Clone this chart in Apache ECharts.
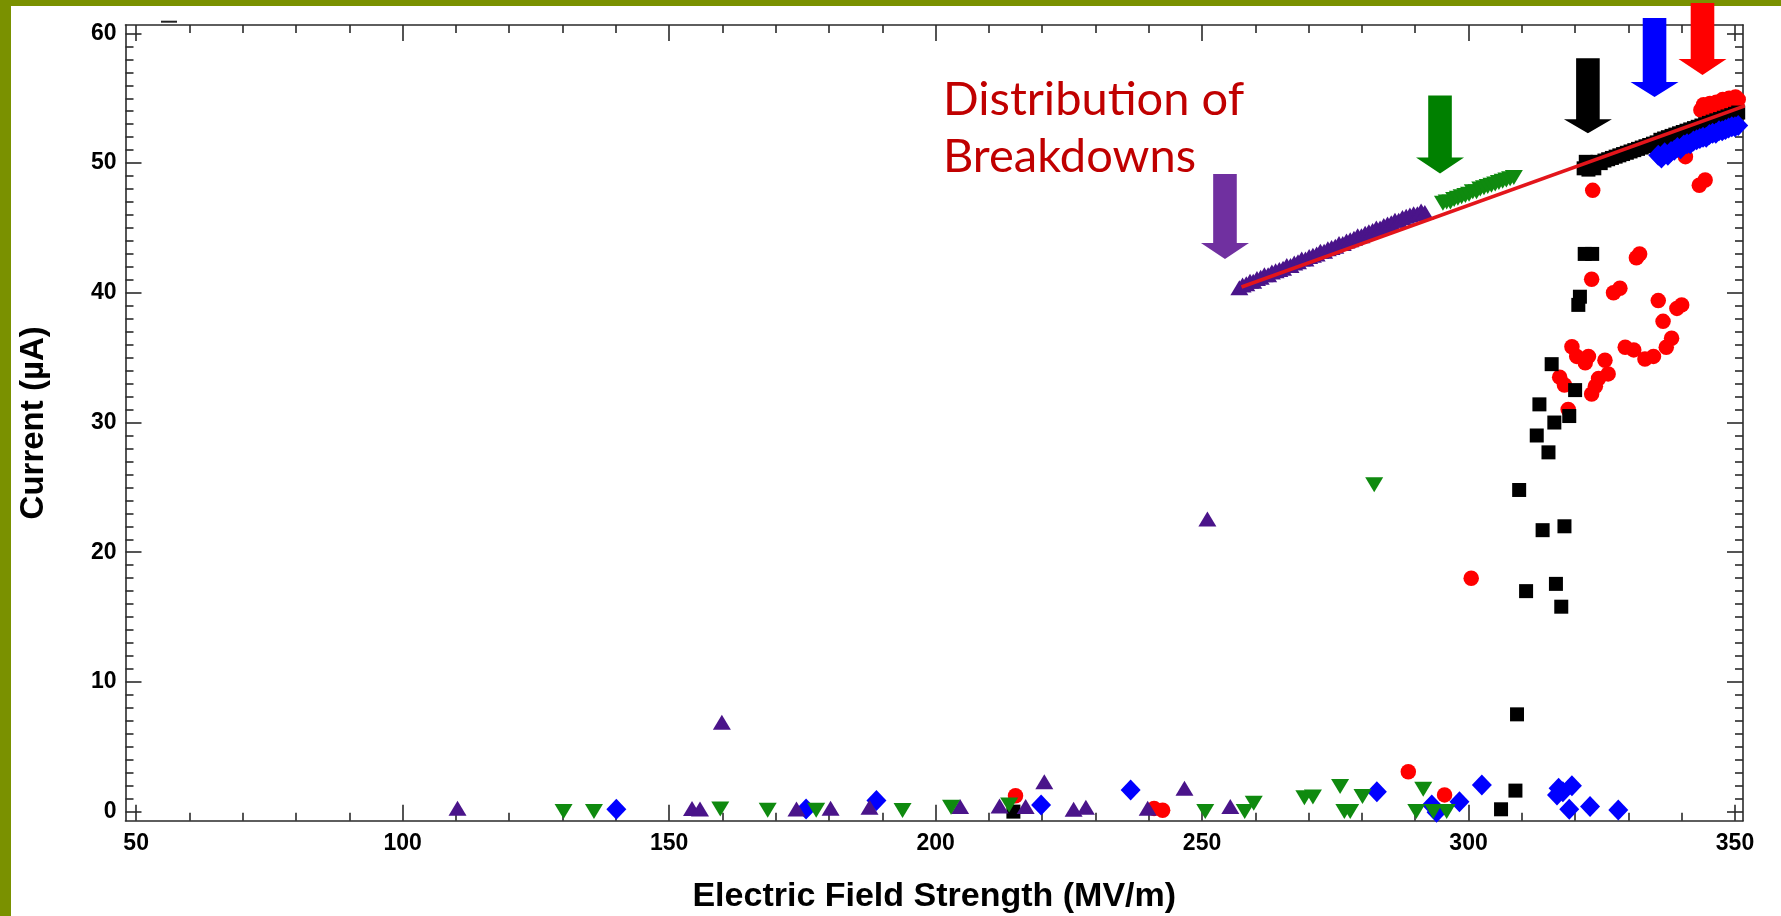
<!DOCTYPE html>
<html>
<head>
<meta charset="utf-8">
<script src="https://cdn.jsdelivr.net/npm/echarts@6/dist/echarts.min.js"></script>
<style>
  html, body { margin: 0; padding: 0; background: #ffffff; }
  #chart { width: 1781px; height: 916px; }
</style>
</head>
<body>
<div id="chart"></div>
<script>
// ---- axis ticks ----
const xTickLabels = [50, 100, 150, 200, 250, 300, 350];
const yTickLabels = [0, 10, 20, 30, 40, 50, 60];

// ---- measured current vs. field, one array per run ----
// purple run (up triangles)
const purpleRun = [
  [110.3, 0.26], [154.3, 0.25], [155.8, 0.2], [159.9, 6.9], [173.9, 0.2], [180.3, 0.26],
  [187.6, 0.34], [204.6, 0.39], [212.0, 0.44], [216.9, 0.39], [220.4, 2.31], [225.9, 0.18],
  [228.2, 0.34], [239.8, 0.26], [246.7, 1.8], [251.0, 22.56], [255.3, 0.39],
  [257.0, 40.4], [257.6, 40.6], [258.3, 40.7], [259.0, 40.9], [259.6, 40.9], [260.3, 41.1],
  [261.0, 41.2], [261.7, 41.4], [262.4, 41.4], [263.1, 41.6], [263.8, 41.7], [264.5, 41.8],
  [265.2, 41.9], [265.9, 42.1], [266.6, 42.1], [267.3, 42.3], [268.0, 42.4], [268.7, 42.6],
  [269.4, 42.6], [270.1, 42.8], [270.8, 42.9], [271.5, 43.0], [272.2, 43.2], [272.9, 43.2],
  [273.6, 43.4], [274.3, 43.5], [275.0, 43.6], [275.7, 43.8], [276.4, 43.8], [277.1, 44.0],
  [277.8, 44.1], [278.5, 44.2], [279.2, 44.4], [279.9, 44.4], [280.6, 44.6], [281.3, 44.7],
  [282.0, 44.8], [282.7, 45.0], [283.4, 45.0], [284.1, 45.2], [284.8, 45.3], [285.5, 45.4],
  [286.2, 45.6], [286.9, 45.6], [287.6, 45.8], [288.3, 45.9], [289.0, 46.0], [289.7, 46.1],
  [290.4, 46.1], [291.1, 46.3], [291.8, 46.2]
];
// green run (down triangles)
const greenRun = [
  [130.2, 0.0], [135.9, 0.0], [159.6, 0.2], [168.5, 0.1], [177.6, 0.1], [193.8, 0.08],
  [202.9, 0.34], [213.8, 0.52], [250.6, 0.0], [258.0, 0.0], [259.7, 0.65], [269.2, 1.07],
  [270.8, 1.13], [275.9, 1.93], [276.7, 0.0], [277.8, 0.0], [280.1, 1.16], [282.3, 25.2],
  [290.2, 0.0], [291.5, 1.73], [293.4, 0.0], [295.9, 0.0],
  [295.2, 46.9], [295.9, 47.0], [296.6, 47.0], [297.3, 47.2], [298.0, 47.3], [298.7, 47.4],
  [299.4, 47.5], [300.1, 47.6], [300.8, 47.8], [301.5, 47.8], [302.2, 48.0], [302.9, 48.1],
  [303.6, 48.2], [304.3, 48.3], [305.0, 48.4], [305.7, 48.5], [306.4, 48.6], [307.1, 48.7],
  [307.8, 48.8], [308.5, 48.9]
];
// black run (squares)
const blackRun = [
  [214.6, 0.0], [306.1, 0.18], [308.8, 1.62], [309.1, 7.5], [309.5, 24.8], [310.8, 17.0],
  [312.8, 29.0], [313.3, 31.4], [313.9, 21.7], [315.0, 27.7], [315.6, 34.5], [316.1, 30.0],
  [316.4, 17.56], [317.4, 15.8], [318.0, 22.0], [318.9, 30.5], [320.0, 32.5], [320.6, 39.07],
  [320.9, 39.7], [321.8, 43.0], [323.2, 43.0],
  [321.6, 49.6], [322.0, 50.1], [322.5, 49.5], [323.0, 50.0], [323.6, 49.6], [324.2, 50.1],
  [324.8, 50.0], [325.5, 50.2], [326.2, 50.3], [326.9, 50.4], [327.6, 50.5], [328.3, 50.6],
  [329.0, 50.7], [329.7, 50.8], [330.4, 50.9], [331.1, 51.0], [331.8, 51.1], [332.5, 51.2],
  [333.2, 51.3], [333.9, 51.4], [334.6, 51.5], [335.3, 51.6], [336.0, 51.8], [336.7, 51.9],
  [337.4, 52.0], [338.1, 52.1], [338.8, 52.2], [339.5, 52.3], [340.2, 52.4], [340.9, 52.5],
  [341.6, 52.6], [342.3, 52.7], [343.0, 52.8], [343.7, 52.9], [344.4, 53.0], [345.1, 53.1],
  [345.8, 53.2], [346.5, 53.3], [347.2, 53.4], [347.9, 53.5], [348.6, 53.6], [349.3, 53.7],
  [350.0, 53.8], [350.6, 53.9]
];
// blue run (diamonds)
const blueRun = [
  [140.1, 0.18], [175.7, 0.2], [188.9, 0.85], [219.8, 0.52], [236.6, 1.67], [282.8, 1.54],
  [293.1, 0.52], [294.0, -0.05], [298.3, 0.77], [302.5, 2.06], [316.6, 1.29], [316.9, 1.8],
  [317.7, 1.54], [318.9, 0.18], [319.4, 2.0], [322.8, 0.39], [328.1, 0.13],
  [335.6, 50.6], [336.2, 50.4], [336.8, 50.8], [337.4, 50.6], [338.0, 50.9], [338.6, 51.0],
  [339.2, 51.2], [339.8, 51.1], [340.4, 51.4], [341.0, 51.5], [341.6, 51.5], [342.2, 51.7],
  [342.8, 51.8], [343.4, 51.9], [344.0, 52.0], [344.6, 52.0], [345.2, 52.2], [345.8, 52.3],
  [346.4, 52.3], [347.0, 52.5], [347.6, 52.5], [348.2, 52.6], [348.8, 52.7], [349.4, 52.8],
  [350.0, 52.8], [350.6, 52.9]
];
// red run (circles)
const redRun = [
  [215.0, 1.23], [241.0, 0.25], [242.6, 0.1], [288.7, 3.08], [295.5, 1.29], [300.5, 18.0],
  [317.1, 33.5], [318.0, 32.9], [318.7, 31.0], [319.4, 35.85], [320.3, 35.1], [321.9, 34.6],
  [322.5, 35.1], [323.1, 32.2], [323.8, 32.8], [324.4, 33.4], [325.6, 34.8], [326.2, 33.75],
  [323.1, 41.05], [327.2, 40.0], [328.4, 40.35], [329.4, 35.8], [331.0, 35.6], [331.5, 42.7],
  [332.1, 43.0], [333.1, 34.9], [334.7, 35.1], [335.6, 39.4], [336.5, 37.8], [337.1, 35.8],
  [338.1, 36.5], [339.1, 38.8], [340.0, 39.07], [323.3, 47.9], [340.7, 50.5], [343.3, 48.3],
  [344.4, 48.7],
  [343.6, 54.1], [344.1, 54.5], [344.7, 54.2], [345.3, 54.6], [345.9, 54.4], [346.5, 54.7],
  [347.1, 54.6], [347.7, 54.9], [348.3, 54.7], [348.9, 55.0], [349.5, 54.9], [350.1, 55.1],
  [350.6, 54.9]
];
// linear fit through the breakdown points
const breakdownFit = [[257.4, 40.45], [352.4, 54.5]];

// breakdown markers: field position and arrow tip (data units)
const arrowField = [254.3, 294.65, 322.4, 334.9, 343.9];
const arrowTipCurrent = [42.6, 49.2, 52.3, 55.1, 56.8];

// ---- styling ----
const FONT = "'Liberation Sans', Arial, sans-serif";
const X_MIN = 48, X_MAX = 351.5, Y_MIN = -0.7, Y_MAX = 60.65;
const arrowColors = ['#7030a0', '#008000', '#000000', '#0000ff', '#ff0000'];
const arrowLen = [85, 78, 75, 79, 72];
const arrowHeadLen = [16, 16, 14, 15, 16];

function minorBetween(major, step) {
  const out = [];
  for (let i = 0; i < major.length - 1; i++) {
    for (let v = major[i] + step; v < major[i + 1] - 1e-9; v += step) out.push(+v.toFixed(3));
  }
  return out;
}
const xMinor = minorBetween(xTickLabels, 10);
const yMinor = minorBetween(yTickLabels, 1);

const lineCol = '#2a2a2a';
function valueAxis(pos, min, max, ticks, len, showLine, labels, extra) {
  return Object.assign({
    type: 'value', position: pos, min: min, max: max,
    axisLine: { show: showLine, onZero: false, lineStyle: { color: lineCol, width: 1.6 } },
    axisTick: { show: true, inside: true, length: len, customValues: ticks,
                lineStyle: { color: lineCol, width: 1.6 } },
    axisLabel: labels ? { show: true, customValues: ticks, color: '#000', fontFamily: FONT,
                          fontWeight: 'bold', fontSize: 23, margin: labels.margin }
                      : { show: false },
    splitLine: { show: false }
  }, extra || {});
}

const chart = echarts.init(document.getElementById('chart'), null, { renderer: 'canvas' });

const option = {
  backgroundColor: '#ffffff',
  animation: false,
  grid: { left: 125.5, right: 38, top: 25, bottom: 95.3, containLabel: false, outerBoundsMode: 'none' },
  xAxis: [
    valueAxis('bottom', X_MIN, X_MAX, xTickLabels, 16, true, { margin: 11 }, {
      name: 'Electric Field Strength (MV/m)', nameLocation: 'middle', nameGap: 59,
      nameTextStyle: { color: '#000', fontFamily: FONT, fontWeight: 'bold', fontSize: 34 }
    }),
    valueAxis('bottom', X_MIN, X_MAX, xMinor, 8, false, null),
    valueAxis('top', X_MIN, X_MAX, xTickLabels, 16, true, null),
    valueAxis('top', X_MIN, X_MAX, xMinor, 8, false, null)
  ],
  yAxis: [
    valueAxis('left', Y_MIN, Y_MAX, yTickLabels, 16, true, { margin: 9 }, {
      name: 'Current (µA)', nameLocation: 'middle', nameGap: 75, nameRotate: 90,
      nameTextStyle: { color: '#000', fontFamily: FONT, fontWeight: 'bold', fontSize: 33 }
    }),
    valueAxis('left', Y_MIN, Y_MAX, yMinor, 8, false, null),
    valueAxis('right', Y_MIN, Y_MAX, yTickLabels, 16, true, null),
    valueAxis('right', Y_MIN, Y_MAX, yMinor, 8, false, null)
  ],
  series: [
    { name: 'red', type: 'scatter', data: redRun, symbol: 'circle', symbolSize: 15.5,
      itemStyle: { color: '#ff0000', opacity: 1 } },
    { name: 'black', type: 'scatter', data: blackRun, symbol: 'rect', symbolSize: 14,
      itemStyle: { color: '#000000', opacity: 1 } },
    { name: 'blue', type: 'scatter', data: blueRun, symbol: 'diamond', symbolSize: [20, 21],
      itemStyle: { color: '#0000ff', opacity: 1 } },
    { name: 'purple', type: 'scatter', data: purpleRun, symbol: 'triangle', symbolSize: [18, 15],
      itemStyle: { color: '#4a148a', opacity: 1 } },
    { name: 'green', type: 'scatter', data: greenRun, symbol: 'triangle', symbolSize: [18, 15],
      symbolRotate: 180, itemStyle: { color: '#0f8a0f', opacity: 1 } },
    { name: 'fit', type: 'line', data: breakdownFit, symbol: 'none', clip: false, z: 5,
      lineStyle: { color: '#e3151b', width: 3.5 } }
  ]
};
chart.setOption(option);

// frame, annotation and breakdown arrows
const graphics = [
  { type: 'rect', shape: { x: 0, y: 0, width: 1781, height: 6 }, style: { fill: '#7a9100' }, z: 10 },
  { type: 'rect', shape: { x: 0, y: 0, width: 11, height: 916 }, style: { fill: '#7a9100' }, z: 10 },
  { type: 'line', shape: { x1: 161, y1: 21.7, x2: 177, y2: 21.7 }, style: { stroke: '#222', lineWidth: 2 }, z: 10 },
  { type: 'text', x: 943, y: 100, z: 10,
    style: { text: 'Distribution of', fill: '#c00000', font: "47px Lato, 'Open Sans', sans-serif", verticalAlign: 'middle' } },
  { type: 'text', x: 943, y: 157, z: 10,
    style: { text: 'Breakdowns', fill: '#c00000', font: "47px Lato, 'Open Sans', sans-serif", verticalAlign: 'middle' } }
];
const shaftHalf = 11.8, headHalf = 24;
arrowField.forEach(function (fx, i) {
  const p = chart.convertToPixel({ seriesIndex: 0 }, [fx, arrowTipCurrent[i]]);
  const cx = p[0], tip = p[1], top = tip - arrowLen[i], neck = tip - arrowHeadLen[i];
  graphics.push({
    type: 'polygon', z: 20,
    shape: { points: [
      [cx - shaftHalf, top], [cx + shaftHalf, top], [cx + shaftHalf, neck], [cx + headHalf, neck],
      [cx, tip], [cx - headHalf, neck], [cx - shaftHalf, neck]
    ] },
    style: { fill: arrowColors[i] }
  });
});
chart.setOption({ graphic: graphics });
</script>
</body>
</html>
